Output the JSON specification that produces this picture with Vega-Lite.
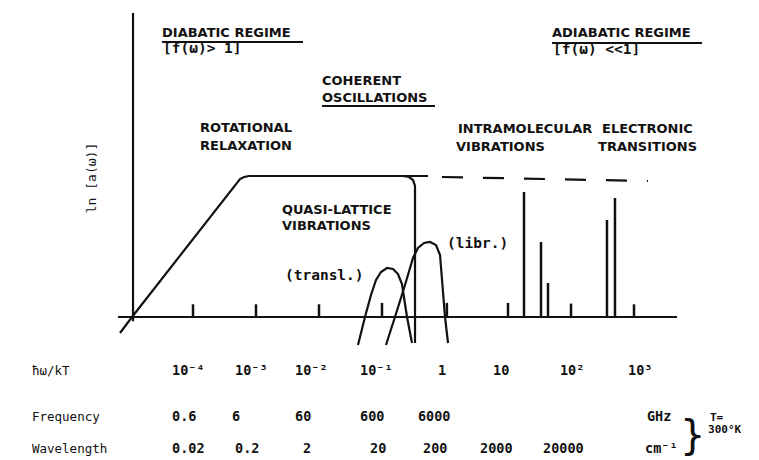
{
  "$schema": "https://vega.github.io/schema/vega-lite/v6.json",
  "width": 759,
  "height": 460,
  "autosize": {"type": "none"},
  "padding": 0,
  "background": "white",
  "config": {"view": {"stroke": null}},
  "datasets": {
    "curves": [
      {"g": "rot", "o": 1, "x": -5.159, "y": -1.135},
      {"g": "rot", "o": 2, "x": -4.968, "y": 0},
      {"g": "rot", "o": 3, "x": -3.254, "y": 9.787},
      {"g": "rot", "o": 4, "x": -3.19, "y": 9.929},
      {"g": "rot", "o": 5, "x": -3.111, "y": 10},
      {"g": "rot", "o": 6, "x": -0.27, "y": 10},
      {"g": "corner", "o": 1, "x": -0.667, "y": 10},
      {"g": "corner", "o": 2, "x": -0.571, "y": 9.929},
      {"g": "corner", "o": 3, "x": -0.508, "y": 9.716},
      {"g": "corner", "o": 4, "x": -0.476, "y": 9.291},
      {"g": "corner", "o": 5, "x": -0.476, "y": -1.844},
      {"g": "transl", "o": 1, "x": -1.381, "y": -1.986},
      {"g": "transl", "o": 2, "x": -1.27, "y": 0},
      {"g": "transl", "o": 3, "x": -1.175, "y": 1.56},
      {"g": "transl", "o": 4, "x": -1.095, "y": 2.624},
      {"g": "transl", "o": 5, "x": -1.016, "y": 3.191},
      {"g": "transl", "o": 6, "x": -0.921, "y": 3.475},
      {"g": "transl", "o": 7, "x": -0.825, "y": 3.404},
      {"g": "transl", "o": 8, "x": -0.746, "y": 3.05},
      {"g": "transl", "o": 9, "x": -0.683, "y": 2.34},
      {"g": "transl", "o": 10, "x": -0.603, "y": 0},
      {"g": "transl", "o": 11, "x": -0.524, "y": -1.844},
      {"g": "libr", "o": 1, "x": -0.937, "y": -1.986},
      {"g": "libr", "o": 2, "x": -0.794, "y": 0},
      {"g": "libr", "o": 3, "x": -0.635, "y": 2.27},
      {"g": "libr", "o": 4, "x": -0.508, "y": 4.184},
      {"g": "libr", "o": 5, "x": -0.429, "y": 4.894},
      {"g": "libr", "o": 6, "x": -0.333, "y": 5.248},
      {"g": "libr", "o": 7, "x": -0.238, "y": 5.319},
      {"g": "libr", "o": 8, "x": -0.143, "y": 5.106},
      {"g": "libr", "o": 9, "x": -0.079, "y": 4.397},
      {"g": "libr", "o": 10, "x": 0.0, "y": 0},
      {"g": "libr", "o": 11, "x": 0.048, "y": -1.844},
      {"g": "dash", "o": 1, "x": -0.048, "y": 9.929},
      {"g": "dash", "o": 2, "x": 3.222, "y": 9.645}
    ],
    "spikes": [
      {"x": -4, "b": 0, "h": 0.9},
      {"x": -3, "b": 0, "h": 0.9},
      {"x": -2, "b": 0, "h": 0.9},
      {"x": -1, "b": 0, "h": 1.0},
      {"x": 0.03, "b": 0, "h": 1.0},
      {"x": 1, "b": 0, "h": 1.0},
      {"x": 2, "b": 0, "h": 0.95},
      {"x": 3, "b": 0, "h": 0.9},
      {"x": 1.254, "b": 0, "h": 8.865},
      {"x": 1.524, "b": 0, "h": 5.319},
      {"x": 1.635, "b": 0, "h": 2.411},
      {"x": 2.571, "b": 0, "h": 6.879},
      {"x": 2.698, "b": 0, "h": 8.44}
    ],
    "segs": [
      {"x": -4.952, "x2": -4.952, "y": -0.3, "y2": 21.56},
      {"x": -5.19, "x2": 3.683, "y": 0, "y2": 0},
      {"x": -4.492, "x2": -2.254, "y": 19.503, "y2": 19.503},
      {"x": -1.952, "x2": -0.159, "y": 14.964, "y2": 14.964},
      {"x": 1.698, "x2": 4.079, "y": 19.432, "y2": 19.432}
    ],
    "labels": [
      {"k": "head", "t": "DIABATIC REGIME", "x": -4.492, "y": 20.142},
      {"k": "head", "t": "ADIABATIC REGIME", "x": 1.698, "y": 20.142},
      {"k": "head", "t": "COHERENT", "x": -1.952, "y": 16.737},
      {"k": "head", "t": "OSCILLATIONS", "x": -1.952, "y": 15.532},
      {"k": "head", "t": "ROTATIONAL", "x": -3.889, "y": 13.404},
      {"k": "head", "t": "RELAXATION", "x": -3.889, "y": 12.127},
      {"k": "head", "t": "INTRAMOLECULAR", "x": 0.206, "y": 13.333},
      {"k": "head", "t": "VIBRATIONS", "x": 0.175, "y": 12.056},
      {"k": "head", "t": "ELECTRONIC", "x": 2.492, "y": 13.333},
      {"k": "head", "t": "TRANSITIONS", "x": 2.429, "y": 12.056},
      {"k": "head", "t": "QUASI-LATTICE", "x": -2.587, "y": 7.588},
      {"k": "head", "t": "VIBRATIONS", "x": -2.587, "y": 6.454},
      {"k": "mono", "t": "[f(ω)> 1]", "x": -4.476, "y": 19.007},
      {"k": "mono", "t": "[f(ω) <<1]", "x": 1.714, "y": 18.936},
      {"k": "mono", "t": "(transl.)", "x": -2.54, "y": 2.908},
      {"k": "mono", "t": "(libr.)", "x": 0.032, "y": 5.177},
      {"k": "title", "t": "ħω/kT", "x": -6.556, "y": -3.83},
      {"k": "title", "t": "Frequency", "x": -6.556, "y": -7.092},
      {"k": "title", "t": "Wavelength", "x": -6.556, "y": -9.362},
      {"k": "num", "t": "10⁻⁴", "x": -4.333, "y": -3.83},
      {"k": "num", "t": "10⁻³", "x": -3.333, "y": -3.83},
      {"k": "num", "t": "10⁻²", "x": -2.381, "y": -3.83},
      {"k": "num", "t": "10⁻¹", "x": -1.349, "y": -3.83},
      {"k": "num", "t": "1", "x": -0.111, "y": -3.83},
      {"k": "num", "t": "10", "x": 0.762, "y": -3.83},
      {"k": "num", "t": "10²", "x": 1.825, "y": -3.83},
      {"k": "num", "t": "10³", "x": 2.905, "y": -3.83},
      {"k": "num", "t": "0.6", "x": -4.333, "y": -7.092},
      {"k": "num", "t": "6", "x": -3.381, "y": -7.092},
      {"k": "num", "t": "60", "x": -2.381, "y": -7.092},
      {"k": "num", "t": "600", "x": -1.349, "y": -7.092},
      {"k": "num", "t": "6000", "x": -0.429, "y": -7.092},
      {"k": "num", "t": "GHz", "x": 3.206, "y": -7.092},
      {"k": "num", "t": "0.02", "x": -4.333, "y": -9.362},
      {"k": "num", "t": "0.2", "x": -3.333, "y": -9.362},
      {"k": "num", "t": "2", "x": -2.254, "y": -9.362},
      {"k": "num", "t": "20", "x": -1.19, "y": -9.362},
      {"k": "num", "t": "200", "x": -0.349, "y": -9.362},
      {"k": "num", "t": "2000", "x": 0.556, "y": -9.362},
      {"k": "num", "t": "20000", "x": 1.556, "y": -9.362},
      {"k": "num", "t": "cm⁻¹", "x": 3.175, "y": -9.362},
      {"k": "small", "t": "T=", "x": 4.206, "y": -7.163},
      {"k": "small", "t": "300°K", "x": 4.175, "y": -8.014},
      {"k": "brace", "t": "}", "x": 3.73, "y": -8.511},
      {"k": "ylab", "t": "ln [a(ω)]", "x": -5.603, "y": 9.858}
    ]
  },
  "layer": [
    {
      "data": {"name": "curves"},
      "transform": [{"filter": "datum.g != 'dash'"}],
      "mark": {"type": "line", "stroke": "#111", "strokeWidth": 2.2},
      "encoding": {
        "x": {"field": "x", "type": "quantitative", "scale": {"domain": [-7.0635, 4.984], "nice": false, "zero": false}, "axis": null},
        "y": {"field": "y", "type": "quantitative", "scale": {"domain": [-10.142, 22.482], "nice": false, "zero": false}, "axis": null},
        "detail": {"field": "g", "type": "nominal"},
        "order": {"field": "o", "type": "quantitative"}
      }
    },
    {
      "data": {"name": "curves"},
      "transform": [{"filter": "datum.g == 'dash'"}],
      "mark": {"type": "line", "stroke": "#111", "strokeWidth": 2.2, "strokeDash": [21, 20]},
      "encoding": {
        "x": {"field": "x", "type": "quantitative", "axis": null},
        "y": {"field": "y", "type": "quantitative", "axis": null},
        "order": {"field": "o", "type": "quantitative"}
      }
    },
    {
      "data": {"name": "spikes"},
      "mark": {"type": "rule", "stroke": "#111", "strokeWidth": 2.5},
      "encoding": {
        "x": {"field": "x", "type": "quantitative", "axis": null},
        "y": {"field": "b", "type": "quantitative", "axis": null},
        "y2": {"field": "h"}
      }
    },
    {
      "data": {"name": "segs"},
      "mark": {"type": "rule", "stroke": "#111", "strokeWidth": 2.2},
      "encoding": {
        "x": {"field": "x", "type": "quantitative", "axis": null},
        "x2": {"field": "x2"},
        "y": {"field": "y", "type": "quantitative", "axis": null},
        "y2": {"field": "y2"}
      }
    },
    {
      "data": {"name": "labels"},
      "transform": [{"filter": "datum.k == 'head'"}],
      "mark": {"type": "text", "align": "left", "baseline": "middle", "font": "DejaVu Sans", "fontWeight": "bold", "fontSize": 13, "fill": "#111"},
      "encoding": {
        "x": {"field": "x", "type": "quantitative", "axis": null},
        "y": {"field": "y", "type": "quantitative", "axis": null},
        "text": {"field": "t", "type": "nominal"}
      }
    },
    {
      "data": {"name": "labels"},
      "transform": [{"filter": "datum.k == 'mono'"}],
      "mark": {"type": "text", "align": "left", "baseline": "middle", "font": "DejaVu Sans Mono", "fontWeight": "bold", "fontSize": 14.5, "fill": "#111"},
      "encoding": {
        "x": {"field": "x", "type": "quantitative", "axis": null},
        "y": {"field": "y", "type": "quantitative", "axis": null},
        "text": {"field": "t", "type": "nominal"}
      }
    },
    {
      "data": {"name": "labels"},
      "transform": [{"filter": "datum.k == 'title'"}],
      "mark": {"type": "text", "align": "left", "baseline": "middle", "font": "DejaVu Sans Mono", "fontWeight": "normal", "fontSize": 12.5, "fill": "#111"},
      "encoding": {
        "x": {"field": "x", "type": "quantitative", "axis": null},
        "y": {"field": "y", "type": "quantitative", "axis": null},
        "text": {"field": "t", "type": "nominal"}
      }
    },
    {
      "data": {"name": "labels"},
      "transform": [{"filter": "datum.k == 'num'"}],
      "mark": {"type": "text", "align": "left", "baseline": "middle", "font": "DejaVu Sans Mono", "fontWeight": "bold", "fontSize": 13.5, "fill": "#111"},
      "encoding": {
        "x": {"field": "x", "type": "quantitative", "axis": null},
        "y": {"field": "y", "type": "quantitative", "axis": null},
        "text": {"field": "t", "type": "nominal"}
      }
    },
    {
      "data": {"name": "labels"},
      "transform": [{"filter": "datum.k == 'small'"}],
      "mark": {"type": "text", "align": "left", "baseline": "middle", "font": "DejaVu Sans Mono", "fontWeight": "bold", "fontSize": 11, "fill": "#111"},
      "encoding": {
        "x": {"field": "x", "type": "quantitative", "axis": null},
        "y": {"field": "y", "type": "quantitative", "axis": null},
        "text": {"field": "t", "type": "nominal"}
      }
    },
    {
      "data": {"name": "labels"},
      "transform": [{"filter": "datum.k == 'brace'"}],
      "mark": {"type": "text", "align": "left", "baseline": "middle", "font": "DejaVu Sans", "fontWeight": "normal", "fontSize": 40, "fill": "#111"},
      "encoding": {
        "x": {"field": "x", "type": "quantitative", "axis": null},
        "y": {"field": "y", "type": "quantitative", "axis": null},
        "text": {"field": "t", "type": "nominal"}
      }
    },
    {
      "data": {"name": "labels"},
      "transform": [{"filter": "datum.k == 'ylab'"}],
      "mark": {"type": "text", "align": "center", "baseline": "middle", "angle": 270, "font": "DejaVu Sans Mono", "fontWeight": "normal", "fontSize": 13, "fill": "#111"},
      "encoding": {
        "x": {"field": "x", "type": "quantitative", "axis": null},
        "y": {"field": "y", "type": "quantitative", "axis": null},
        "text": {"field": "t", "type": "nominal"}
      }
    }
  ]
}
